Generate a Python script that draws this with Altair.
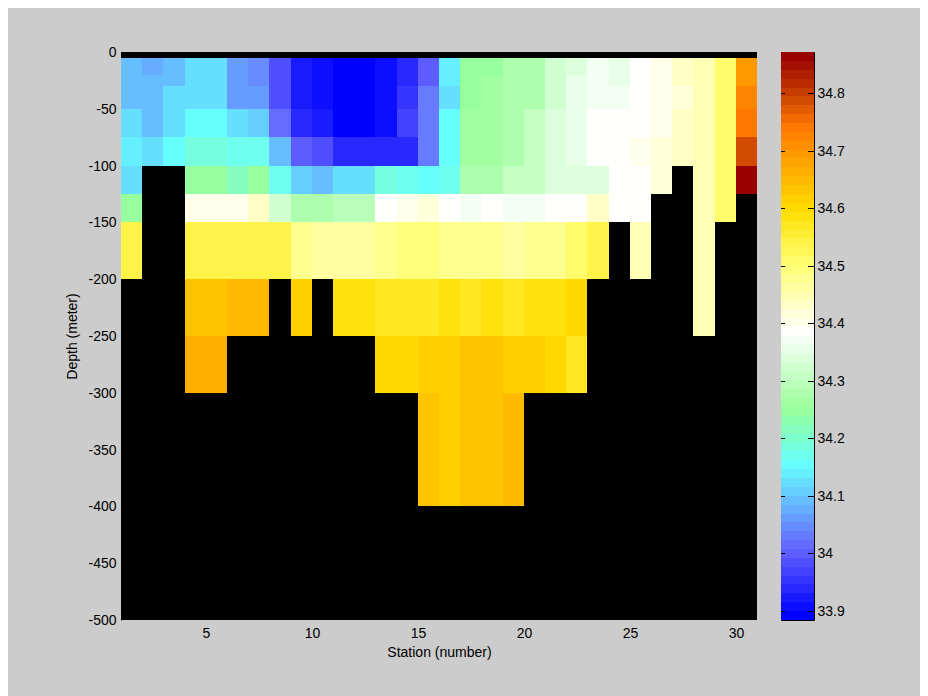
import altair as alt
import numpy as np
import pandas as pd

N = None
depth_top = [5, 20, 30, 50, 75, 100, 125, 150, 200, 250, 300]
depth_bot = [20, 30, 50, 75, 100, 125, 150, 200, 250, 300, 400]

r0 = [34.10, 34.083, 34.10, 34.117, 34.117, 34.056, 34.041, 33.981, 33.92, 33.905, 33.885, 33.885, 33.905, 33.935, 34.005, 34.133, 34.25, 34.25, 34.272, 34.284, 34.318, 34.34, 34.372, 34.355, 34.393, 34.405, 34.425, 34.45, 34.505, 34.7]
r1 = [34.10, 34.10, 34.10, 34.117, 34.117, 34.056, 34.041, 33.981, 33.92, 33.905, 33.885, 33.885, 33.905, 33.935, 34.005, 34.133, 34.25, 34.263, 34.272, 34.284, 34.318, 34.362, 34.372, 34.355, 34.393, 34.405, 34.425, 34.45, 34.505, 34.7]
r2 = [34.10, 34.10, 34.117, 34.117, 34.117, 34.067, 34.056, 33.986, 33.92, 33.905, 33.885, 33.885, 33.905, 33.95, 34.033, 34.12, 34.25, 34.263, 34.284, 34.284, 34.318, 34.362, 34.375, 34.375, 34.39, 34.398, 34.413, 34.442, 34.505, 34.72]
r3 = [34.117, 34.10, 34.117, 34.15, 34.15, 34.117, 34.105, 34.015, 33.94, 33.92, 33.885, 33.885, 33.905, 33.965, 34.033, 34.15, 34.26, 34.263, 34.284, 34.302, 34.34, 34.362, 34.393, 34.378, 34.39, 34.398, 34.428, 34.445, 34.505, 34.74]
r4 = [34.133, 34.117, 34.15, 34.183, 34.183, 34.165, 34.175, 34.10, 34.005, 33.986, 33.94, 33.94, 33.94, 33.945, 34.033, 34.15, 34.26, 34.263, 34.284, 34.302, 34.34, 34.362, 34.393, 34.378, 34.407, 34.413, 34.433, 34.445, 34.505, 34.79]
r5 = [34.117, N, N, 34.25, 34.25, 34.217, 34.245, 34.175, 34.11, 34.09, 34.117, 34.117, 34.19, 34.17, 34.15, 34.17, 34.272, 34.284, 34.308, 34.308, 34.34, 34.34, 34.34, 34.39, 34.39, 34.413, N, 34.445, 34.505, 34.87]
r6 = [34.25, N, N, 34.407, 34.407, 34.407, 34.425, 34.318, 34.272, 34.272, 34.295, 34.295, 34.39, 34.407, 34.42, 34.393, 34.372, 34.393, 34.375, 34.375, 34.393, 34.393, 34.425, 34.39, 34.39, N, N, 34.445, 34.505, N]
r7 = [34.535, N, N, 34.535, 34.535, 34.535, 34.535, 34.535, 34.486, 34.467, 34.46, 34.46, 34.486, 34.5, 34.5, 34.486, 34.471, 34.471, 34.457, 34.471, 34.486, 34.505, 34.545, N, 34.442, N, N, 34.442, N, N]
r8 = [N, N, N, 34.625, 34.625, 34.65, 34.65, N, 34.615, N, 34.59, 34.59, 34.57, 34.57, 34.57, 34.585, 34.572, 34.585, 34.57, 34.585, 34.59, 34.6, N, N, N, N, N, 34.442, N, N]
r9 = [N, N, N, 34.665, 34.665, N, N, N, N, N, N, N, 34.6, 34.6, 34.62, 34.62, 34.632, 34.632, 34.62, 34.62, 34.6, 34.57, N, N, N, N, N, N, N, N]
r10 = [N, N, N, N, N, N, N, N, N, N, N, N, N, N, 34.632, 34.62, 34.632, 34.632, 34.65, N, N, N, N, N, N, N, N, N, N, N]
rows = [r0, r1, r2, r3, r4, r5, r6, r7, r8, r9, r10]

x_ticks = [5, 10, 15, 20, 25, 30]
y_ticks = [0, -50, -100, -150, -200, -250, -300, -350, -400, -450, -500]
cb_ticks = [33.9, 34.0, 34.1, 34.2, 34.3, 34.4, 34.5, 34.6, 34.7, 34.8]
cmin, cmax = 33.884, 34.872

stop_vals = [33.884, 34.005, 34.15, 34.25, 34.385, 34.5, 34.55, 34.6, 34.7, 34.75, 34.8, 34.872]
stop_cols = ["#0000ff", "#6666ff", "#66ffff", "#99ff99", "#ffffff", "#ffff77", "#fff040", "#ffdd00", "#ff9900", "#ff7700", "#cc4400", "#990000"]
nlev = 64

def rgb(h):
    return [int(h[i:i + 2], 16) for i in (1, 3, 5)]

edges = np.linspace(cmin, cmax, nlev + 1)
mids = (edges[:-1] + edges[1:]) / 2
levels = np.linspace(cmin, cmax, nlev)
stops_rgb = np.array([rgb(c) for c in stop_cols])
palette = ["#%02x%02x%02x" % tuple(int(round(np.interp(m, stop_vals, stops_rgb[:, ch]))) for ch in range(3)) for m in levels]
color_scale = alt.Scale(type="quantize", domain=[cmin, cmax], range=palette)

recs = []
for ri, row in enumerate(rows):
    for ci, v in enumerate(row):
        if v is not None:
            recs.append(dict(s0=ci + 1, s1=ci + 2, d0=-depth_top[ri], d1=-depth_bot[ri], v=v))
df = pd.DataFrame(recs)

FONT = "Liberation Sans"
FS = 14

main = alt.Chart(df).mark_rect(strokeWidth=0).encode(
    x=alt.X("s0:Q", scale=alt.Scale(domain=[1, 31], nice=False, zero=False, round=True),
            axis=alt.Axis(values=x_ticks, title="Station (number)", grid=False, ticks=False,
                          domain=False, labelPadding=6, titlePadding=5,
                          labelExpr="'' + datum.value",
                          labelFlush=False, labelOverlap=False)),
    x2="s1:Q",
    y=alt.Y("d0:Q", scale=alt.Scale(domain=[-500, 0], nice=False, zero=False, round=True),
            axis=alt.Axis(values=y_ticks, title="Depth (meter)", grid=False, ticks=False,
                          domain=True, domainColor="black", labelPadding=5, titlePadding=8,
                          labelExpr="'' + datum.value", labelOverlap=False)),
    y2="d1:Q",
    color=alt.Color("v:Q", scale=color_scale, legend=None),
).properties(width=636, height=568, view=alt.ViewBackground(fill="black", stroke=None))

cb_df = pd.DataFrame(dict(lo=edges[:-1], hi=edges[1:], v=mids, a=0, b=1))
cb_y = alt.Scale(domain=[cmin, cmax], nice=False, zero=False, round=True)
cb_x = alt.Scale(domain=[0, 1], nice=False, zero=False)
cb_axis = alt.Axis(orient="right", values=cb_ticks, title=None, grid=False, ticks=False,
                   domain=False, labelPadding=3, format=".3~g", labelOverlap=False)
bar = alt.Chart(cb_df).mark_rect(strokeWidth=0).encode(
    x=alt.X("a:Q", scale=cb_x, axis=None),
    x2="b:Q",
    y=alt.Y("lo:Q", scale=cb_y, axis=cb_axis),
    y2="hi:Q",
    color=alt.Color("v:Q", scale=color_scale, legend=None),
)
tick_df = pd.DataFrame(dict(t=cb_ticks))
tick_l = alt.Chart(tick_df).mark_rule(color="black", strokeWidth=1, yOffset=0.5).encode(
    x=alt.value(0), x2=alt.value(4), y=alt.Y("t:Q", scale=cb_y, axis=cb_axis))
tick_r = alt.Chart(tick_df).mark_rule(color="black", strokeWidth=1, yOffset=0.5).encode(
    x=alt.value(27), x2=alt.value(33), y=alt.Y("t:Q", scale=cb_y, axis=cb_axis))
cbar = alt.layer(bar, tick_l, tick_r).properties(
    width=33, height=568, view=alt.ViewBackground(fill=None, stroke="black", strokeWidth=1))

chart = alt.hconcat(main, cbar, spacing=23).resolve_scale(color="independent").properties(
    background="#cccccc",
    padding=alt.Padding(left=57, top=37, right=75, bottom=38),
).configure_axis(
    labelFont=FONT, titleFont=FONT, labelFontSize=FS, titleFontSize=FS,
    labelColor="black", titleColor="black", titleFontWeight="normal",
)

chart.save("out.html", embed_options={"renderer": "svg", "actions": False})
